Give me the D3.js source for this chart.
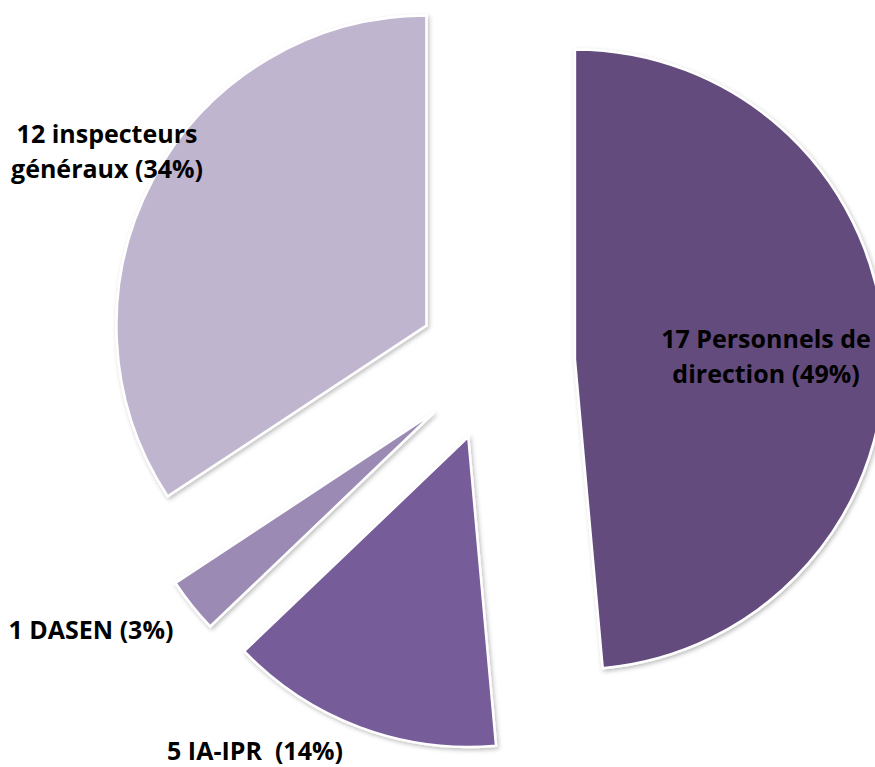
<!DOCTYPE html>
<html>
<head>
<meta charset="utf-8">
<script src="https://cdn.jsdelivr.net/npm/d3@7"></script>
<style>
  html, body { margin: 0; padding: 0; background: #ffffff; }
  svg { display: block; }
  text { font-family: "Open Sans", "Lato", sans-serif; font-weight: bold; fill: #000; white-space: pre; }
</style>
</head>
<body>
<svg id="chart" width="875" height="767"></svg>
<script>
// ---- data ----
const categories = ["Personnels de direction", "IA-IPR", "DASEN", "inspecteurs généraux"];
const values = [17, 5, 1, 12];
const labelLines = [
  ["17 Personnels de", "direction (49%)"],
  ["5 IA-IPR  (14%)"],
  ["1 DASEN (3%)"],
  ["12 inspecteurs", "généraux (34%)"]
];
const colors = ["#634C7D", "#765C98", "#9B8AB4", "#C0B5CF"];

// ---- layout ----
const W = 875, H = 767;
const cx = 496, cy = 363, radius = 310, explode = 79;
// label placement: [radius factor from slice vertex, angle offset in degrees from mid-angle]
const labelPlacement = [[0.6165, 1.8], [1.2247, 13.6], [1.312, 6.14], [1.1726, 0.23]];
const fontSize = 25, lineHeight = 35.5;

const svg = d3.select("#chart");
const defs = svg.append("defs");
const f = defs.append("filter").attr("id", "shadow")
  .attr("x", "-20%").attr("y", "-20%").attr("width", "140%").attr("height", "140%");
f.append("feDropShadow").attr("dx", 1.5).attr("dy", 2).attr("stdDeviation", 2.2)
  .attr("flood-color", "#000").attr("flood-opacity", 0.26);

const pie = d3.pie().sort(null).value(d => d);
const arcs = pie(values);
const arc = d3.arc().innerRadius(0).outerRadius(radius);
const total = d3.sum(values);

const g = svg.append("g").attr("transform", `translate(${cx},${cy})`);

arcs.forEach((a, i) => {
  const mid = (a.startAngle + a.endAngle) / 2;
  const ox = Math.sin(mid) * explode, oy = -Math.cos(mid) * explode;
  const sg = g.append("g").attr("transform", `translate(${ox},${oy})`);
  sg.append("path")
    .attr("d", arc(a))
    .attr("fill", colors[i])
    .attr("stroke", "#ffffff")
    .attr("stroke-width", 2.5)
    .attr("stroke-linejoin", "miter")
    .attr("filter", "url(#shadow)");

  const [rf, dAng] = labelPlacement[i];
  const ang = mid + dAng * Math.PI / 180;
  const lx = ox + Math.sin(ang) * radius * rf;
  const ly = oy - Math.cos(ang) * radius * rf;
  const lines = labelLines[i];
  const t = g.append("text")
    .attr("text-anchor", "middle")
    .attr("font-size", fontSize)
    .attr("x", lx)
    .attr("y", ly);
  lines.forEach((ln, k) => {
    t.append("tspan")
      .attr("x", lx)
      .attr("dy", k === 0 ? (-(lines.length - 1) / 2 * lineHeight + fontSize * 0.34) : lineHeight)
      .text(ln);
  });
});
</script>
</body>
</html>
